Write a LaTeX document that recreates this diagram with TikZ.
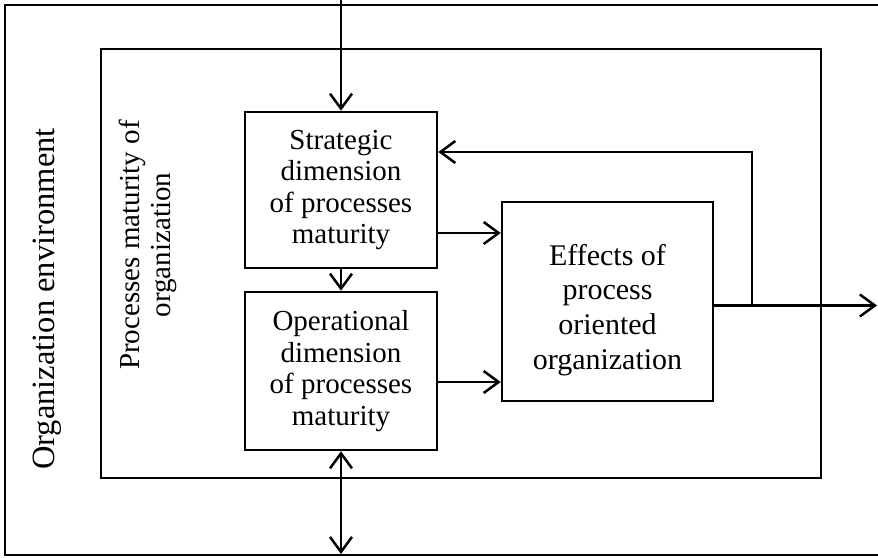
\documentclass[tikz,border=0pt]{standalone}
\usepackage{fontspec}
\setmainfont{Liberation Serif}
\usetikzlibrary{arrows.meta,calc}

\tikzset{
  frame/.style={draw, line width=2.5pt},
  box/.style={draw, line width=2.5pt, align=center, inner sep=0pt,
    font=\fontsize{29}{31.5}\selectfont},
  lbl/.style={align=center, font=\fontsize{29}{31.5}\selectfont, rotate=90},
  arr/.style={line width=2.5pt, -{Straight Barb[length=15pt,width=22pt]}},
  darr/.style={line width=2.5pt, {Straight Barb[length=15pt,width=22pt]}-{Straight Barb[length=15pt,width=22pt]}}
}

\begin{document}
\begin{tikzpicture}[x=1pt, y=-1pt]
  \useasboundingbox (0,0) rectangle (878,557);

  % environment frame, open towards the right
  \draw[frame] (880,5) -- (5,5) -- (5,555) -- (880,555);
  % organization frame
  \draw[frame] (101,49) rectangle (821,478);

  \node[lbl, font=\fontsize{32.5}{36}\selectfont] (env) at (47,299) {Organization environment};
  \node[lbl] (mat) at (148,245) {Processes maturity of\\organization};

  \node[box, minimum width=192pt, minimum height=156pt] (strat) at (341,190)
    {Strategic\\dimension\\of processes\\maturity};
  \node[box, minimum width=192pt, minimum height=158pt] (oper) at (341,371)
    {Operational\\dimension\\of processes\\maturity};
  \node[box, minimum width=211pt, minimum height=199pt] (eff) at (607.5,301.5) {};
  \node[align=center, font=\fontsize{30}{34.7}\selectfont] (efftxt) at (607.5,310)
    {Effects of\\process\\oriented\\organization};

  \coordinate (top) at (341,0);
  \coordinate (bot) at (341,554);
  \coordinate (sA) at ($(strat.east)+(0,43)$);
  \coordinate (oA) at ($(oper.east)+(0,11)$);
  \coordinate (eO) at ($(eff.east)+(0,4)$);
  \coordinate (out) at (877,0 |- eO);
  \coordinate (fb) at (752,0 |- eO);
  \coordinate (fbTop) at (752,152);
  \coordinate (sF) at (strat.east |- fbTop);

  \draw[arr] (top) -- (strat.north);
  \draw[arr] (strat.south) -- (oper.north);
  \draw[darr] (oper.south) -- (bot);
  \draw[arr] (sA) -- (eff.west |- sA);
  \draw[arr] (oA) -- (eff.west |- oA);
  \draw[arr] (eO) -- (out);
  \draw[arr] (fb) -- (fbTop) -- (sF);
\end{tikzpicture}
\end{document}
